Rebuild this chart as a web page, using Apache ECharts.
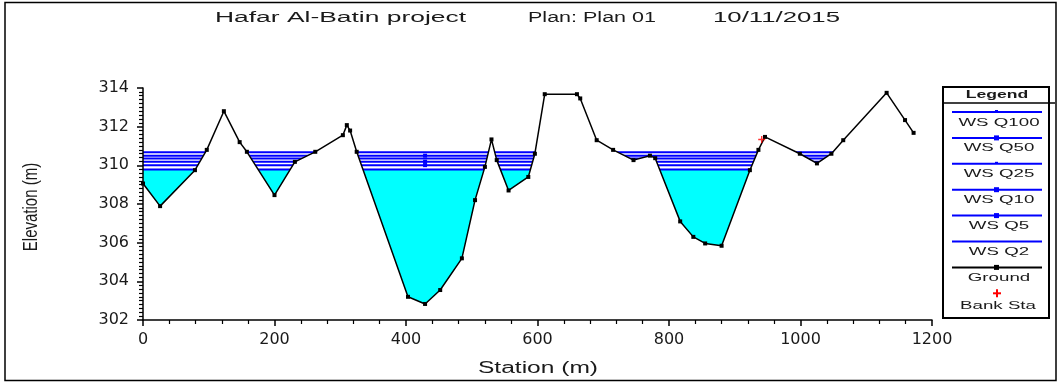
<!DOCTYPE html>
<html>
<head>
<meta charset="utf-8">
<script src="https://cdn.jsdelivr.net/npm/echarts@6/dist/echarts.min.js"></script>
<style>
html,body{margin:0;padding:0;background:#fff;}
#chart{width:1058px;height:383px;}
</style>
</head>
<body>
<div id="chart"></div>
<script>
// ---------- data ----------
const stations = [0, 26, 79, 97, 123, 147, 158, 200, 231, 262, 304, 310, 315, 325, 403, 429, 452, 485, 505, 520, 530, 538, 556, 586, 596, 611, 660, 665, 690, 715, 746, 771, 779, 817, 837, 855, 880, 923, 936, 946, 999, 1025, 1047, 1065, 1131, 1159, 1172];
const groundElev = [309.06, 307.89, 309.75, 310.8, 312.8, 311.2, 310.7, 308.46, 310.18, 310.7, 311.56, 312.08, 311.8, 310.7, 303.2, 302.83, 303.55, 305.19, 308.2, 309.92, 311.34, 310.27, 308.7, 309.4, 310.6, 313.68, 313.68, 313.46, 311.3, 310.8, 310.27, 310.5, 310.37, 307.1, 306.3, 305.96, 305.84, 309.75, 310.8, 311.47, 310.6, 310.1, 310.6, 311.3, 313.75, 312.34, 311.68];
const wsNames = ['WS Q100', 'WS Q50', 'WS Q25', 'WS Q10', 'WS Q5', 'WS Q2'];
const wsLevels = [310.68, 310.50, 310.35, 310.19, 310.01, 309.78];
const bankStations = [941];
const bankElev = [311.34];
const xTicks = {min: 0, max: 1200, interval: 200};
const yTicks = {min: 302, max: 314, interval: 2};
const titleParts = ['Hafar Al-Batin project', 'Plan: Plan 01', '10/11/2015'];
const xName = 'Station (m)';
const yName = 'Elevation (m)';
const groundName = 'Ground';
const bankName = 'Bank Sta';
const legendTitle = 'Legend';

// ---------- helpers ----------
const measureCtx = document.createElement('canvas').getContext('2d');
function fitScale(text, font, target) {
  measureCtx.font = font;
  return target / measureCtx.measureText(text).width;
}
const FONT = '"Liberation Sans", Arial, sans-serif';

const ground = stations.map((s, i) => [s, groundElev[i]]);
const thalweg = stations[groundElev.indexOf(Math.min(...groundElev))];
const wsEnd = stations[groundElev.indexOf(Math.max(...groundElev))];
const lowestWS = Math.min(...wsLevels);
const markerSeries = [1, 3, 4];

const series = [];
series.push({
  type: 'line', name: 'fill', silent: true, z: 1,
  data: [[stations[0], lowestWS], [wsEnd, lowestWS]],
  symbol: 'none', lineStyle: {width: 0},
  areaStyle: {color: '#00ffff', opacity: 1, origin: 'start'}
});
wsNames.forEach((n, i) => {
  const lv = wsLevels[i];
  const data = [[stations[0], lv]];
  if (markerSeries.includes(i)) data.push({value: [thalweg, lv], symbol: 'rect', symbolSize: 4});
  data.push([wsEnd, lv]);
  series.push({
    type: 'line', name: n, z: 2, data,
    symbol: 'none', showSymbol: true,
    lineStyle: {color: '#0000ff', width: 2},
    itemStyle: {color: '#0000ff'}
  });
});
series.push({
  type: 'line', name: 'mask', silent: true, z: 3,
  data: ground, symbol: 'none', lineStyle: {width: 0},
  areaStyle: {color: '#ffffff', opacity: 1, origin: 'start'}
});
series.push({
  type: 'line', name: groundName, z: 4, data: ground,
  symbol: 'rect', symbolSize: 4,
  lineStyle: {color: '#000', width: 1.5},
  itemStyle: {color: '#000'}
});
const plusPath = 'path://M4,0H6V4H10V6H6V10H4V6H0V4H4Z';
series.push({
  type: 'scatter', name: bankName, z: 5,
  data: bankStations.map((s, i) => [s, bankElev[i]]),
  symbol: plusPath, symbolSize: 7,
  itemStyle: {color: '#ff0000'}
});

// ---------- graphics (frame, title, axis names, legend) ----------
const graphic = [];
graphic.push({type: 'rect', shape: {x: 5, y: 2.5, width: 1051, height: 378}, style: {fill: 'none', stroke: '#000', lineWidth: 1.5}, z: -1, silent: true});

const titleFont = '14px ' + FONT;
const titleBoxes = [[215, 466], [528, 656], [713, 840]];
titleParts.forEach((t, i) => {
  const [a, b] = titleBoxes[i];
  graphic.push({type: 'text', x: a, y: 18, scaleX: fitScale(t, titleFont, b - a),
    style: {text: t, font: titleFont, fill: '#1a1a1a', textAlign: 'left', textVerticalAlign: 'middle'}});
});
const xNameFont = '16px ' + FONT;
graphic.push({type: 'text', x: 538, y: 369, scaleX: fitScale(xName, xNameFont, 120),
  style: {text: xName, font: xNameFont, fill: '#1a1a1a', textAlign: 'center', textVerticalAlign: 'middle'}});
const yNameFont = '15px ' + FONT;
graphic.push({type: 'text', x: 31, y: 207, rotation: Math.PI / 2, scaleY: 1.35,
  style: {text: yName, font: yNameFont, fill: '#1a1a1a', textAlign: 'center', textVerticalAlign: 'middle'}});

// legend
const lgX = 943, lgY = 87, lgW = 106, lgH = 231;
graphic.push({type: 'rect', shape: {x: lgX, y: lgY, width: lgW, height: lgH}, style: {fill: '#fff', stroke: '#000', lineWidth: 2}});
graphic.push({type: 'line', shape: {x1: lgX, y1: 103, x2: 1055, y2: 103}, style: {stroke: '#000', lineWidth: 1.5}});
graphic.push({type: 'text', x: 997, y: 95, scaleX: 1.6,
  style: {text: legendTitle, font: 'bold 11px ' + FONT, fill: '#1a1a1a', textAlign: 'center', textVerticalAlign: 'middle'}});
const lgFont = '11px ' + FONT;
const step = 25.9;
const entries = wsNames.map((n, i) => ({name: n, color: '#0000ff', kind: markerSeries.includes(i) ? 'sq' : (i === 5 ? 'none' : 'dot')}));
entries.push({name: groundName, color: '#000', kind: 'sq'});
entries.forEach((e, i) => {
  const y = 112 + i * step;
  graphic.push({type: 'line', shape: {x1: 952, y1: y, x2: 1042, y2: y}, style: {stroke: e.color, lineWidth: 2}});
  if (e.kind === 'sq') graphic.push({type: 'rect', shape: {x: 994, y: y - 2.5, width: 5, height: 5}, style: {fill: e.color}});
  if (e.kind === 'dot') graphic.push({type: 'rect', shape: {x: 995, y: y - 2, width: 3, height: 2}, style: {fill: e.color}});
  graphic.push({type: 'text', x: 999, y: y + 10.5, scaleX: 1.7,
    style: {text: e.name, font: lgFont, fill: '#1a1a1a', textAlign: 'center', textVerticalAlign: 'middle'}});
});
{
  const y = 112 + 7 * step;
  graphic.push({type: 'rect', shape: {x: 993, y: y - 1, width: 8, height: 2}, style: {fill: '#ff0000'}});
  graphic.push({type: 'rect', shape: {x: 996, y: y - 4, width: 2, height: 8}, style: {fill: '#ff0000'}});
  graphic.push({type: 'text', x: 998, y: y + 12.5, scaleX: 1.7,
    style: {text: bankName, font: lgFont, fill: '#1a1a1a', textAlign: 'center', textVerticalAlign: 'middle'}});
}

const axisCommon = {
  z: 10,
  axisLine: {show: true, lineStyle: {color: '#000', width: 1.5}},
  axisTick: {show: true, inside: false, length: 6, lineStyle: {color: '#000', width: 1.5}},
  minorTick: {show: true, length: 4, lineStyle: {color: '#000', width: 1.2}},
  splitLine: {show: false},
  axisLabel: {color: '#1a1a1a', fontFamily: 'DejaVu Sans', fontSize: 16, formatter: v => String(v)}
};

const option = {
  animation: false,
  backgroundColor: '#fff',
  grid: {left: 143, right: 126, top: 88, bottom: 63, containLabel: false},
  xAxis: Object.assign({}, axisCommon, {
    type: 'value', min: xTicks.min, max: xTicks.max, interval: xTicks.interval,
    minorTick: Object.assign({}, axisCommon.minorTick, {splitNumber: 5}),
    axisLabel: Object.assign({}, axisCommon.axisLabel, {margin: 12})
  }),
  yAxis: Object.assign({}, axisCommon, {
    type: 'value', min: yTicks.min, max: yTicks.max, interval: yTicks.interval,
    minorTick: Object.assign({}, axisCommon.minorTick, {splitNumber: 10}),
    axisLabel: Object.assign({}, axisCommon.axisLabel, {margin: 14})
  }),
  series,
  graphic
};

const chart = echarts.init(document.getElementById('chart'), null, {renderer: 'canvas'});
chart.setOption(option);
</script>
</body>
</html>
